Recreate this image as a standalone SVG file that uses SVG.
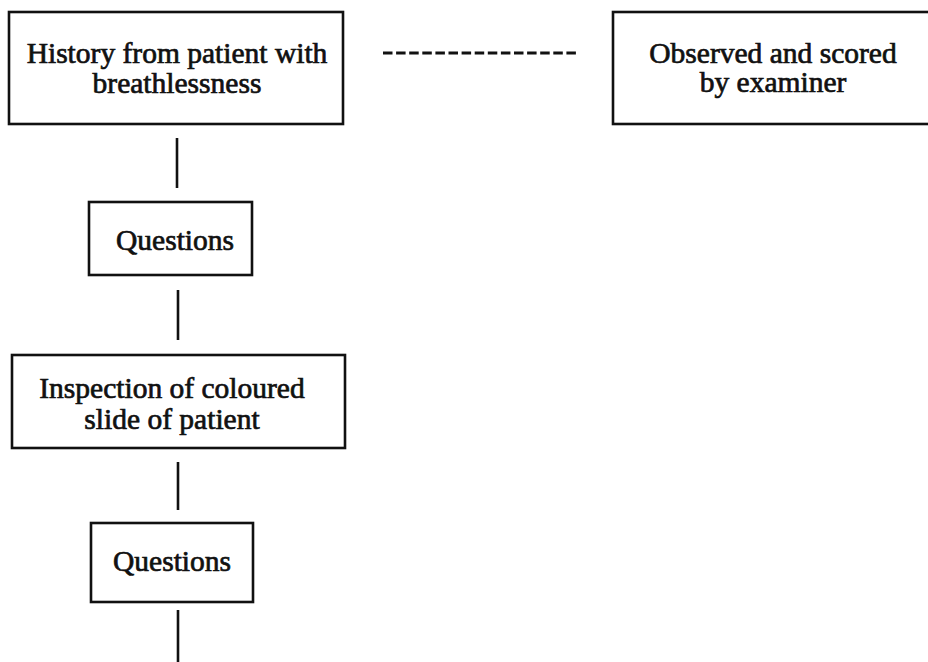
<svg xmlns="http://www.w3.org/2000/svg" width="928" height="662" viewBox="0 0 928 662">
<style>
.box{fill:#fff;stroke:#111;stroke-width:2.6}
.lbl{font-family:"Liberation Serif","Times New Roman",serif;font-size:29.5px;fill:#111;stroke:#111;stroke-width:0.7;text-anchor:middle}
.conn{stroke:#111;stroke-width:2.6;fill:none}
.dash{stroke:#111;stroke-width:2.8;stroke-dasharray:9.5 3.6;fill:none}
</style>
<rect width="928" height="662" fill="#fff"/>
<g id="connectors">
<line class="dash" x1="383" y1="53" x2="576" y2="53"/>
<line class="conn" x1="177" y1="138" x2="177" y2="188"/>
<line class="conn" x1="178" y1="290" x2="178" y2="340"/>
<line class="conn" x1="178" y1="462" x2="178" y2="510"/>
<line class="conn" x1="178" y1="610" x2="178" y2="662"/>
</g>
<g id="history">
<rect class="box" x="9" y="12" width="334" height="112"/>
<text class="lbl" x="177" y="63">History from patient with</text>
<text class="lbl" x="177" y="93">breathlessness</text>
</g>
<g id="observed">
<rect class="box" x="613" y="12" width="330" height="112"/>
<text class="lbl" x="773" y="63">Observed and scored</text>
<text class="lbl" x="773" y="92">by examiner</text>
</g>
<g id="questions1">
<rect class="box" x="89" y="202" width="163" height="73"/>
<text class="lbl" x="175" y="250">Questions</text>
</g>
<g id="inspection">
<rect class="box" x="12" y="355" width="333" height="93"/>
<text class="lbl" x="172" y="398">Inspection of coloured</text>
<text class="lbl" x="172" y="429">slide of patient</text>
</g>
<g id="questions2">
<rect class="box" x="91" y="523" width="162" height="79"/>
<text class="lbl" x="172" y="571">Questions</text>
</g>
</svg>
